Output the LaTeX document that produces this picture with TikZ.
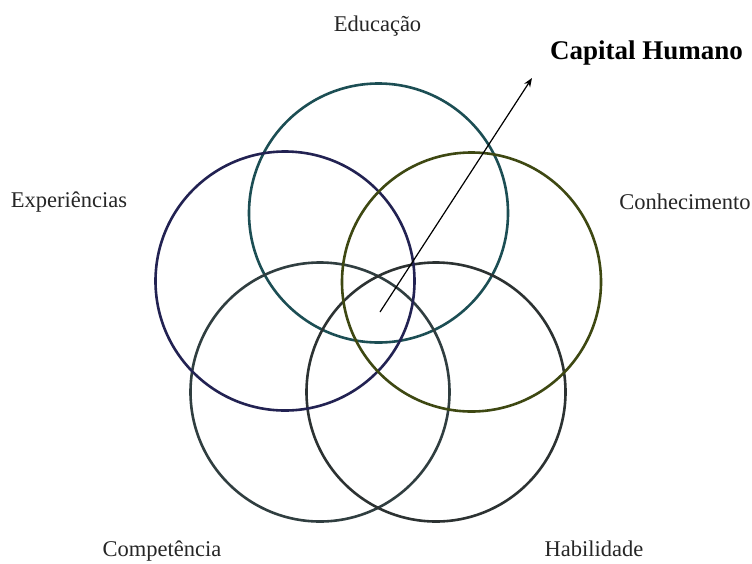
\documentclass[tikz,border=0pt]{standalone}
\usepackage{fontspec}
\setmainfont{Liberation Serif}
\usetikzlibrary{arrows.meta}
\definecolor{cedu}{RGB}{28,78,84}
\definecolor{cexp}{RGB}{34,34,82}
\definecolor{ccon}{RGB}{62,72,18}
\definecolor{ccom}{RGB}{48,62,64}
\definecolor{chab}{RGB}{44,50,50}
\tikzset{
  ring/.style={circle, draw, line width=2.6pt, minimum size=259pt, inner sep=0pt, outer sep=0pt},
  lbl/.style={font=\fontsize{22.5}{25}\selectfont, text=black!85, inner sep=0pt},
  title/.style={font=\fontsize{27}{31}\selectfont\bfseries, inner sep=0pt},
  pointer/.style={line width=1.2pt, -{Stealth[length=9pt,width=7pt]}}
}
\begin{document}
\begin{tikzpicture}[x=1pt,y=-1pt]
\useasboundingbox[fill=white] (0,0) rectangle (752,563);
\node[ring, draw=cedu] (edu) at (378.5,213) {};
\node[ring, draw=ccom] (com) at (320,392) {};
\node[ring, draw=chab] (hab) at (436,392) {};
\node[ring, draw=cexp] (exp) at (285,281) {};
\node[ring, draw=ccon] (con) at (471.5,282) {};
\node[lbl] (tedu) at (377.5,26) {Educação};
\node[lbl] (texp) at (69,202) {Experiências};
\node[lbl] (tcon) at (685,202) {Conhecimento};
\node[lbl, anchor=base] (tcom) at (162,556.5) {Competência};
\node[lbl, anchor=base] (thab) at (594,556.5) {Habilidade};
\node[title] (cap) at (646.5,53) {Capital Humano};
\coordinate (from) at (380,312);
\coordinate (tip) at (532,78);
\draw[pointer] (from) -- (tip);
\end{tikzpicture}
\end{document}
